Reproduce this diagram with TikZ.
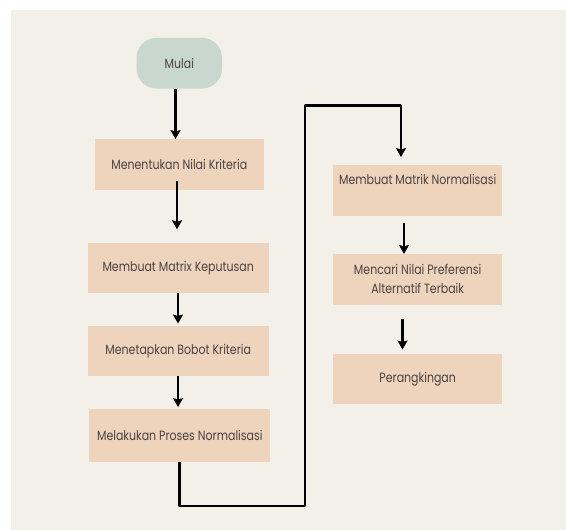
\documentclass[tikz,border=0pt]{standalone}
\usepackage{fontspec}
\setmainfont{Poppins}[FakeStretch=0.82]
\usetikzlibrary{arrows.meta,calc}
\definecolor{bg}{HTML}{F3EFE9}
\definecolor{peach}{HTML}{EED3BD}
\definecolor{sage}{HTML}{C9D8CF}
\definecolor{txt}{HTML}{4A4242}
\begin{document}
\begin{tikzpicture}[x=1pt,y=-1pt,
  lbl/.style={font=\fontsize{13.4}{17}\selectfont,text=txt},
  box/.style={rectangle,fill=peach,minimum width=169.5pt,minimum height=50.5pt,inner sep=0pt,
    lbl,align=center},
  wbox/.style={box,minimum width=181pt},
  start/.style={rectangle,rounded corners=20pt,fill=sage,minimum width=85.5pt,minimum height=50.7pt,
    inner sep=0pt,lbl},
  arr/.style={line width=2.8pt,line join=round,-{Stealth[length=9pt,width=10pt,inset=1.5pt]}}]
\useasboundingbox (0,0) rectangle (566,530);
\fill[white] (0,0) rectangle (566,530);
\fill[bg] (11,10) rectangle (566,530);
\node[start] (mulai) at (179.3,63.2) {Mulai};
\node[box] (n1) at (179.3,164.5) {Menentukan Nilai Kriteria};
\node[wbox] (n2) at (178.2,268) {Membuat Matrix Keputusan};
\node[wbox] (n3) at (178.2,351) {Menetapkan Bobot Kriteria};
\node[wbox,minimum height=53pt] (n4) at (179.8,435.3) {Melakukan Proses Normalisasi};
\node[box,anchor=north] (n5) at (417.7,165) {};
\node[lbl] (t5) at (417.7,179) {Membuat Matrik Normalisasi};
\node[box] (n6) at (417.7,279.4) {Mencari Nilai Preferensi\\[2pt]Alternatif Terbaik};
\node[box] (n7) at (417.7,379) {Perangkingan};
\coordinate (x1) at (175.5,0);
\coordinate (x2) at (177,0);
\coordinate (x3) at (178,0);
\coordinate (x4) at (404,0);
\coordinate (x5) at (402.5,0);
\coordinate (x6) at (401,0);
\coordinate (c1) at (305,506);
\coordinate (c2) at (305,105.7);
\draw[arr] (mulai.south -| x1) -- (n1.north -| x1);
\draw[arr,shorten <=-9.3pt,shorten >=13.3pt] (n1.south -| x2) -- (n2.north -| x2);
\draw[arr,shorten >=2pt] (n2.south -| x3) -- (n3.north -| x3);
\draw[arr,shorten >=1.5pt] (n3.south -| x3) -- (n4.north -| x3);
\draw[arr,shorten >=8pt] (n4.south) |- (c1) -- (c2) -| (n5.north -| x6);
\draw[arr,shorten <=7.5pt] (n5.south -| x4) -- (n6.north -| x4);
\draw[arr,shorten <=14.3pt,shorten >=4pt] (n6.south -| x5) -- (n7.north -| x5);
\end{tikzpicture}
\end{document}
